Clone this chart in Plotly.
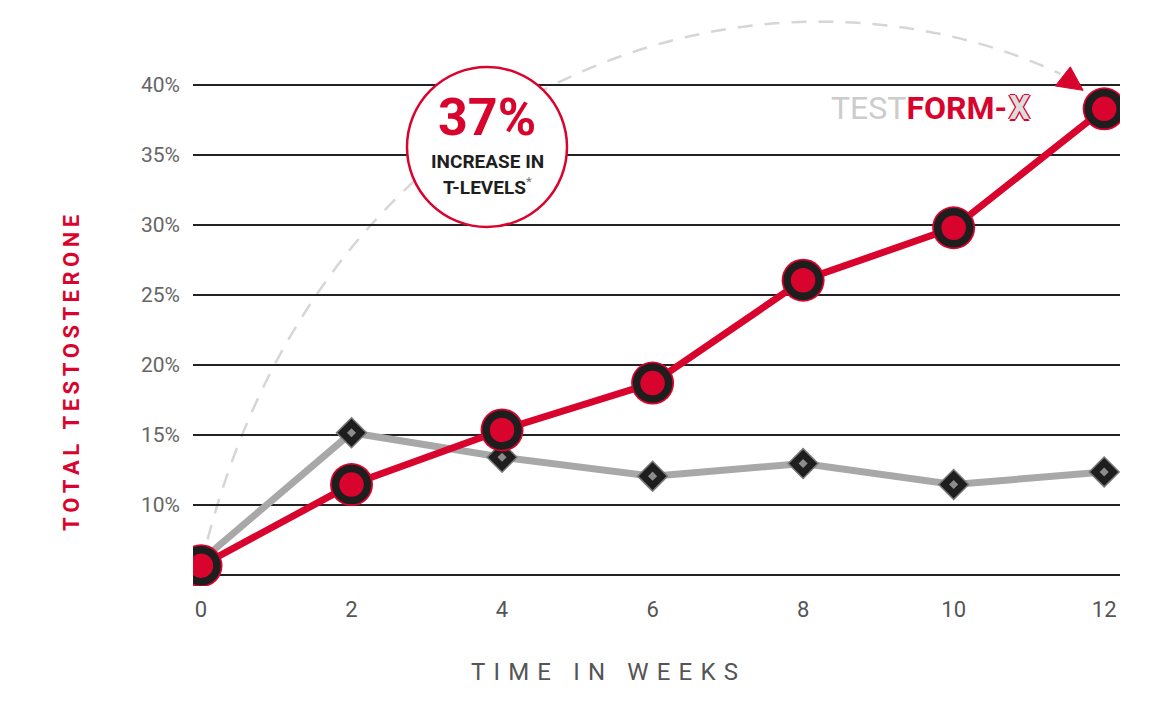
import plotly.graph_objects as go

weeks = [0, 2, 4, 6, 8, 10, 12]
testform_x = [5.65, 11.45, 15.35, 18.7, 26.05, 29.8, 38.3]
placebo = [6.0, 15.15, 13.4, 12.05, 12.95, 11.45, 12.35]
y_ticks = [5, 10, 15, 20, 25, 30, 35, 40]
y_labels = ["", "10%", "15%", "20%", "25%", "30%", "35%", "40%"]

RED = "#d9042e"
DARK = "#1e1e1e"
GREY = "#a8a8a8"

fig = go.Figure()

# placebo line + diamonds
fig.add_trace(go.Scatter(x=weeks, y=placebo, mode="lines",
                         line=dict(color=GREY, width=7), hoverinfo="skip"))
fig.add_trace(go.Scatter(x=weeks[1:], y=placebo[1:], mode="markers",
                         marker=dict(symbol="diamond", size=23, color=DARK,
                                     line=dict(color="#7a7a7a", width=1.5))))
fig.add_trace(go.Scatter(x=weeks[1:], y=placebo[1:], mode="markers",
                         marker=dict(symbol="diamond", size=7, color="#8c8c8c")))

# testform-x line + ringed circles
fig.add_trace(go.Scatter(x=weeks, y=testform_x, mode="lines",
                         line=dict(color=RED, width=7)))
fig.add_trace(go.Scatter(x=weeks, y=testform_x, mode="markers",
                         marker=dict(size=43, color=RED)))
fig.add_trace(go.Scatter(x=weeks, y=testform_x, mode="markers",
                         marker=dict(size=32, color=RED, line=dict(color=DARK, width=7.5))))

# dashed arc from the start point to the arrow near the end point
x0, y0 = weeks[0], testform_x[0]
x3, y3 = 11.42, 40.8
arc = f"M {x0},{y0} C 1.55,41.2 7.43,50.8 {x3},{y3}"
fig.add_shape(type="path", path=arc, line=dict(color="#d6d6d6", width=2.5, dash="15px,12px"),
              layer="below")
fig.add_shape(type="path", path="M 11.55,41.3 L 11.35,39.93 L 11.72,39.62 Z",
              fillcolor=RED, line=dict(color=RED, width=1))

# badge circle
cx, cy = 3.8, 35.57
fig.add_shape(type="circle", xref="x", yref="y", xsizemode="pixel", ysizemode="pixel",
              xanchor=cx, yanchor=cy, x0=-80, x1=80, y0=-80, y1=80,
              fillcolor="white", line=dict(color=RED, width=2.5), layer="above")
fig.add_annotation(x=cx, y=cy, yshift=30, text="<b>37%</b>", showarrow=False,
                   font=dict(family="Roboto", size=52, color=RED, weight=900))
fig.add_annotation(x=cx, y=cy, yshift=-14, text="<b>INCREASE IN</b>", showarrow=False,
                   font=dict(family="Roboto", size=19, color=DARK))
fig.add_annotation(x=cx, y=cy, yshift=-39,
                   text="<b>T-LEVELS</b><sup><span style='color:#777'>*</span></sup>",
                   showarrow=False, font=dict(family="Roboto", size=19, color=DARK))

# logo
fig.add_annotation(x=8.34, y=38.36, xanchor="left", text="<span style='color:#cccccc'>TEST</span>"
                   "<b>FORM-</b>", showarrow=False,
                   font=dict(family="Roboto", size=32, color=RED))
fig.add_annotation(x=10.71, y=38.36, xanchor="left", text="<b>X</b>", showarrow=False,
                   font=dict(family="Roboto", size=33, color="#dddddd",
                             shadow="1.5px 0 0 %s, -1.5px 0 0 %s, 0 1.5px 0 %s, 0 -1.5px 0 %s" % (RED, RED, RED, RED)))

# axis titles
fig.add_annotation(xref="paper", yref="paper", x=-0.1305, y=0.37, xanchor="center",
                   yanchor="middle", textangle=-90,
                   text="<b>" + "\u2009".join("TOTAL TESTOSTERONE") + "</b>", showarrow=False,
                   font=dict(family="Roboto", size=22, color=RED))
fig.add_annotation(xref="paper", yref="paper", x=0.4434, y=-0.149, xanchor="center",
                   yanchor="middle", text="\u2004".join("TIME IN WEEKS"), showarrow=False,
                   font=dict(family="Roboto", size=24, color="#555555"))

fig.update_xaxes(range=[-0.106, 12.21], tickvals=weeks, showgrid=False, zeroline=False,
                 showline=False, tickfont=dict(family="Roboto", size=22, color="#555555"),
                 ticklabelstandoff=8)
fig.update_yaxes(range=[4.2, 45.36], tickvals=y_ticks, ticktext=y_labels, showgrid=True,
                 gridcolor="#222222", gridwidth=2, zeroline=False, showline=False,
                 tickfont=dict(family="Roboto", size=21, color="#666666"),
                 ticklabelstandoff=12)
fig.update_layout(width=1170, height=720, margin=dict(l=185, r=58, t=2, b=142),
                  plot_bgcolor="white", paper_bgcolor="white", showlegend=False)

fig.write_html("out.html")
